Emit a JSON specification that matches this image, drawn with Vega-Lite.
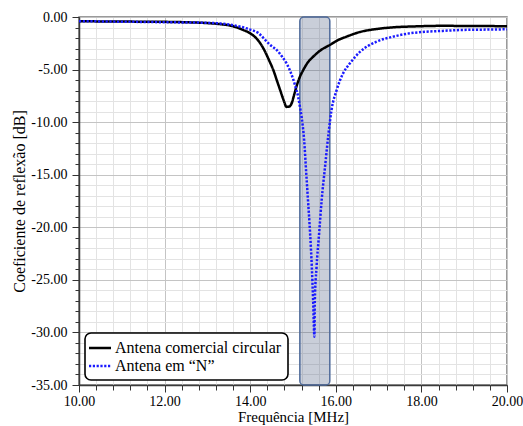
{
  "$schema": "https://vega.github.io/schema/vega-lite/v6.json",
  "width": 428,
  "height": 368,
  "autosize": {"type": "none"},
  "padding": {"left": 79, "top": 17, "right": 16, "bottom": 41},
  "background": "white",
  "config": {
    "font": "'Liberation Serif', 'Times New Roman', 'DejaVu Serif', serif",
    "view": {"stroke": "#7a7a7a", "strokeWidth": 1.5},
    "axis": {"labelFont": "'Liberation Serif', 'Times New Roman', 'DejaVu Serif', serif", "titleFont": "'Liberation Serif', 'Times New Roman', 'DejaVu Serif', serif", "labelColor": "black", "titleColor": "black", "titleFontWeight": "normal", "labelFlush": false},
    "legend": {"labelFont": "'Liberation Serif', 'Times New Roman', 'DejaVu Serif', serif", "strokeWidth": 1.6}
  },
  "datasets": {
    "band": [{"x1": 15.16, "x2": 15.86, "y1": 0, "y2": -35}],
    "curves": [
      {"series": "Antena comercial circular", "f": 10.0, "s": -0.40},
      {"series": "Antena comercial circular", "f": 10.5, "s": -0.42},
      {"series": "Antena comercial circular", "f": 11.0, "s": -0.43},
      {"series": "Antena comercial circular", "f": 11.5, "s": -0.45},
      {"series": "Antena comercial circular", "f": 12.0, "s": -0.46},
      {"series": "Antena comercial circular", "f": 12.5, "s": -0.50},
      {"series": "Antena comercial circular", "f": 13.0, "s": -0.58},
      {"series": "Antena comercial circular", "f": 13.3, "s": -0.68},
      {"series": "Antena comercial circular", "f": 13.6, "s": -0.88},
      {"series": "Antena comercial circular", "f": 13.84, "s": -1.24},
      {"series": "Antena comercial circular", "f": 14.0, "s": -1.55},
      {"series": "Antena comercial circular", "f": 14.2, "s": -2.3},
      {"series": "Antena comercial circular", "f": 14.31, "s": -3.0},
      {"series": "Antena comercial circular", "f": 14.45, "s": -4.2},
      {"series": "Antena comercial circular", "f": 14.54, "s": -5.04},
      {"series": "Antena comercial circular", "f": 14.62, "s": -6.0},
      {"series": "Antena comercial circular", "f": 14.70, "s": -6.95},
      {"series": "Antena comercial circular", "f": 14.78, "s": -7.9},
      {"series": "Antena comercial circular", "f": 14.85, "s": -8.55},
      {"series": "Antena comercial circular", "f": 14.92, "s": -8.5},
      {"series": "Antena comercial circular", "f": 14.97, "s": -8.2},
      {"series": "Antena comercial circular", "f": 15.02, "s": -7.5},
      {"series": "Antena comercial circular", "f": 15.08, "s": -6.63},
      {"series": "Antena comercial circular", "f": 15.16, "s": -5.7},
      {"series": "Antena comercial circular", "f": 15.24, "s": -5.04},
      {"series": "Antena comercial circular", "f": 15.35, "s": -4.3},
      {"series": "Antena comercial circular", "f": 15.47, "s": -3.78},
      {"series": "Antena comercial circular", "f": 15.65, "s": -3.15},
      {"series": "Antena comercial circular", "f": 15.86, "s": -2.66},
      {"series": "Antena comercial circular", "f": 16.05, "s": -2.2},
      {"series": "Antena comercial circular", "f": 16.25, "s": -1.87},
      {"series": "Antena comercial circular", "f": 16.57, "s": -1.42},
      {"series": "Antena comercial circular", "f": 17.0, "s": -1.12},
      {"series": "Antena comercial circular", "f": 17.34, "s": -0.98},
      {"series": "Antena comercial circular", "f": 17.8, "s": -0.9},
      {"series": "Antena comercial circular", "f": 18.12, "s": -0.86},
      {"series": "Antena comercial circular", "f": 18.5, "s": -0.84},
      {"series": "Antena comercial circular", "f": 19.0, "s": -0.85},
      {"series": "Antena comercial circular", "f": 19.5, "s": -0.86},
      {"series": "Antena comercial circular", "f": 20.0, "s": -0.88},
      {"series": "Antena em “N”", "f": 10.0, "s": -0.40},
      {"series": "Antena em “N”", "f": 10.5, "s": -0.42},
      {"series": "Antena em “N”", "f": 11.0, "s": -0.45},
      {"series": "Antena em “N”", "f": 11.5, "s": -0.47},
      {"series": "Antena em “N”", "f": 12.0, "s": -0.50},
      {"series": "Antena em “N”", "f": 12.5, "s": -0.52},
      {"series": "Antena em “N”", "f": 13.0, "s": -0.55},
      {"series": "Antena em “N”", "f": 13.3, "s": -0.62},
      {"series": "Antena em “N”", "f": 13.6, "s": -0.78},
      {"series": "Antena em “N”", "f": 13.85, "s": -1.0},
      {"series": "Antena em “N”", "f": 14.0, "s": -1.2},
      {"series": "Antena em “N”", "f": 14.2, "s": -1.55},
      {"series": "Antena em “N”", "f": 14.31, "s": -2.0},
      {"series": "Antena em “N”", "f": 14.45, "s": -2.6},
      {"series": "Antena em “N”", "f": 14.62, "s": -3.14},
      {"series": "Antena em “N”", "f": 14.75, "s": -3.8},
      {"series": "Antena em “N”", "f": 14.85, "s": -4.41},
      {"series": "Antena em “N”", "f": 14.95, "s": -5.3},
      {"series": "Antena em “N”", "f": 15.01, "s": -5.99},
      {"series": "Antena em “N”", "f": 15.07, "s": -6.8},
      {"series": "Antena em “N”", "f": 15.12, "s": -7.58},
      {"series": "Antena em “N”", "f": 15.16, "s": -8.5},
      {"series": "Antena em “N”", "f": 15.20, "s": -9.48},
      {"series": "Antena em “N”", "f": 15.26, "s": -11.7},
      {"series": "Antena em “N”", "f": 15.31, "s": -14.9},
      {"series": "Antena em “N”", "f": 15.35, "s": -17.4},
      {"series": "Antena em “N”", "f": 15.40, "s": -20.6},
      {"series": "Antena em “N”", "f": 15.44, "s": -23.8},
      {"series": "Antena em “N”", "f": 15.47, "s": -26.9},
      {"series": "Antena em “N”", "f": 15.50, "s": -30.4},
      {"series": "Antena em “N”", "f": 15.51, "s": -27.0},
      {"series": "Antena em “N”", "f": 15.55, "s": -23.8},
      {"series": "Antena em “N”", "f": 15.61, "s": -20.6},
      {"series": "Antena em “N”", "f": 15.67, "s": -17.4},
      {"series": "Antena em “N”", "f": 15.75, "s": -14.2},
      {"series": "Antena em “N”", "f": 15.83, "s": -11.07},
      {"series": "Antena em “N”", "f": 15.90, "s": -8.85},
      {"series": "Antena em “N”", "f": 16.02, "s": -6.95},
      {"series": "Antena em “N”", "f": 16.17, "s": -5.36},
      {"series": "Antena em “N”", "f": 16.33, "s": -4.41},
      {"series": "Antena em “N”", "f": 16.57, "s": -3.30},
      {"series": "Antena em “N”", "f": 16.95, "s": -2.35},
      {"series": "Antena em “N”", "f": 17.34, "s": -1.87},
      {"series": "Antena em “N”", "f": 17.73, "s": -1.55},
      {"series": "Antena em “N”", "f": 18.12, "s": -1.40},
      {"series": "Antena em “N”", "f": 18.5, "s": -1.32},
      {"series": "Antena em “N”", "f": 18.9, "s": -1.24},
      {"series": "Antena em “N”", "f": 19.5, "s": -1.20},
      {"series": "Antena em “N”", "f": 20.0, "s": -1.17}
    ]
  },
  "layer": [
    {
      "data": {"name": "band"},
      "mark": {"type": "rect", "cornerRadius": 4, "fill": "#3c5078", "fillOpacity": 0.28, "stroke": "#4e6a9a", "strokeWidth": 1.5},
      "encoding": {
        "x": {"field": "x1", "type": "quantitative", "scale": {"domain": [10, 20], "nice": false, "zero": false},
          "axis": {"orient": "bottom", "values": [10,10.4,10.8,11.2,11.6,12,12.4,12.8,13.2,13.6,14,14.4,14.8,15.2,15.6,16,16.4,16.8,17.2,17.6,18,18.4,18.8,19.2,19.6,20],
            "labels": false, "title": null, "domain": false, "grid": true, "gridColor": "#e3e3e3", "gridWidth": 1, "gridOpacity": 1, "ticks": true, "tickSize": 5, "tickColor": "#333333", "tickWidth": 1}},
        "x2": {"field": "x2"},
        "y": {"field": "y1", "type": "quantitative", "scale": {"domain": [-35, 0], "nice": false, "zero": false},
          "axis": {"orient": "left", "values": [-35,-34,-33,-32,-31,-30,-29,-28,-27,-26,-25,-24,-23,-22,-21,-20,-19,-18,-17,-16,-15,-14,-13,-12,-11,-10,-9,-8,-7,-6,-5,-4,-3,-2,-1,0],
            "labels": false, "title": null, "domain": false, "grid": true, "gridColor": "#e3e3e3", "gridWidth": 1, "gridOpacity": 1, "ticks": true, "tickSize": 4, "tickColor": "#333333", "tickWidth": 1}},
        "y2": {"field": "y2"}
      }
    },
    {
      "data": {"name": "curves"},
      "mark": {"type": "line", "strokeWidth": 2.5, "interpolate": "monotone"},
      "encoding": {
        "x": {"field": "f", "type": "quantitative", "scale": {"domain": [10, 20], "nice": false, "zero": false},
          "axis": {"orient": "bottom", "values": [10, 12, 14, 16, 18, 20], "format": ".2f", "labelFontSize": 14, "labelPadding": 2, "labelFlush": false,
            "title": "Frequência [MHz]", "titleFontSize": 15, "titlePadding": 1,
            "domain": true, "domainColor": "#3a3a3a", "domainWidth": 1.5, "grid": true, "gridColor": "#c4c4c4", "gridWidth": 1, "gridOpacity": 1,
            "tickSize": 7, "tickColor": "#333333", "tickWidth": 1}},
        "y": {"field": "s", "type": "quantitative", "scale": {"domain": [-35, 0], "nice": false, "zero": false},
          "axis": {"orient": "left", "values": [-35, -30, -25, -20, -15, -10, -5, 0], "labelFlush": false,
            "labelExpr": "(datum.value < 0 ? '-' : '') + format(abs(datum.value), '.2f')", "labelFontSize": 14, "labelPadding": 5,
            "title": "Coeficiente de reflexão [dB]", "titleFontSize": 16, "titlePadding": 3,
            "domain": true, "domainColor": "#3a3a3a", "domainWidth": 1.5, "grid": true, "gridColor": "#c4c4c4", "gridWidth": 1, "gridOpacity": 1,
            "tickSize": 7, "tickColor": "#333333", "tickWidth": 1}},
        "color": {"field": "series", "type": "nominal",
          "scale": {"domain": ["Antena comercial circular", "Antena em “N”"], "range": ["#000000", "#1a1aff"]},
          "legend": {"orient": "none", "legendX": 6, "legendY": 316, "title": null, "symbolType": "M-1.5,0H1.5", "symbolSize": 215, "symbolStrokeWidth": 2.5,
            "labelFontSize": 16, "labelColor": "black", "labelOffset": 6, "labelLimit": 400,
            "fillColor": "white", "strokeColor": "black", "cornerRadius": 6, "padding": 6, "rowPadding": 1}},
        "strokeDash": {"field": "series", "type": "nominal",
          "scale": {"domain": ["Antena comercial circular", "Antena em “N”"], "range": [[1, 0], [2.2, 1.6]]},
          "legend": {"orient": "none", "legendX": 6, "legendY": 316, "title": null, "symbolType": "M-1.5,0H1.5", "symbolSize": 215, "symbolStrokeWidth": 2.5,
            "labelFontSize": 16, "labelColor": "black", "labelOffset": 6, "labelLimit": 400,
            "fillColor": "white", "strokeColor": "black", "cornerRadius": 6, "padding": 6, "rowPadding": 1}}
      }
    }
  ],
  "resolve": {"axis": {"x": "independent", "y": "independent"}}
}
